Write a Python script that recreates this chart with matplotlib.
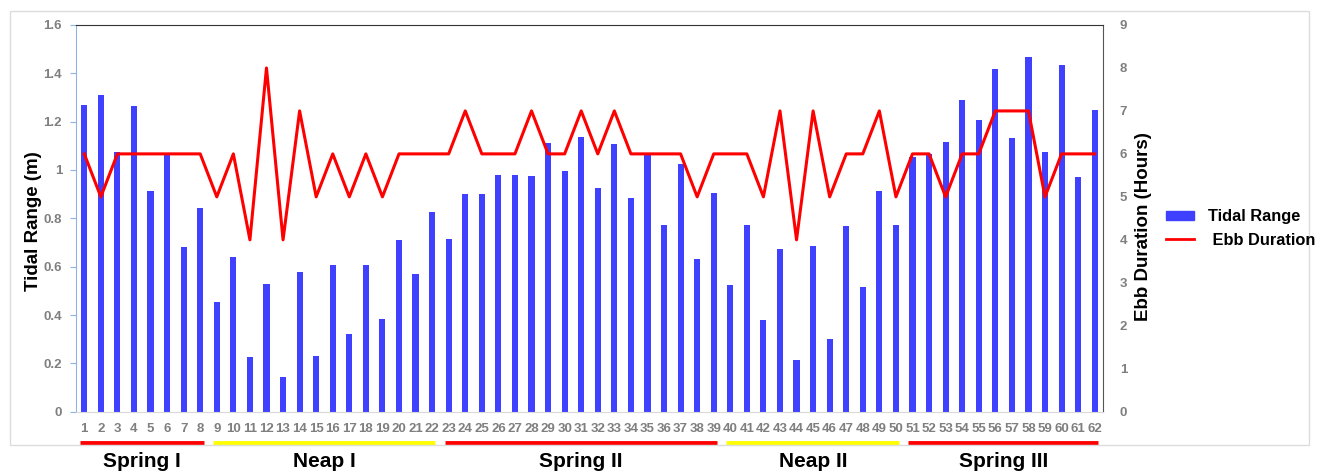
import matplotlib
matplotlib.use('Agg')
from matplotlib import pyplot as plt
from matplotlib import transforms
from matplotlib.patches import Rectangle
from matplotlib.lines import Line2D
from matplotlib.ticker import FuncFormatter

plt.rcParams['font.family'] = 'Liberation Sans'

# observation number 1..62
obs = list(range(1, 63))

tidal_range = [1.27, 1.31, 1.076, 1.264, 0.914, 1.066, 0.68, 0.841,
               0.453, 0.64, 0.228, 0.528, 0.145, 0.579, 0.232, 0.607,
               0.323, 0.607, 0.385, 0.71, 0.568, 0.825, 0.713, 0.90,
               0.90, 0.978, 0.981, 0.974, 1.11, 0.997, 1.138, 0.927,
               1.109, 0.885, 1.066, 0.771, 1.024, 0.632, 0.904, 0.523,
               0.771, 0.381, 0.674, 0.215, 0.687, 0.301, 0.767, 0.517,
               0.913, 0.771, 1.052, 1.066, 1.116, 1.29, 1.207, 1.417,
               1.132, 1.469, 1.073, 1.433, 0.972, 1.25]

ebb_duration = [6, 5, 6, 6, 6, 6, 6, 6, 5, 6, 4, 8, 4, 7, 5, 6,
                5, 6, 5, 6, 6, 6, 6, 7, 6, 6, 6, 7, 6, 6, 7, 6,
                7, 6, 6, 6, 6, 5, 6, 6, 6, 5, 7, 4, 7, 5, 6, 6,
                7, 5, 6, 6, 5, 6, 6, 7, 7, 7, 5, 6, 6, 6]

# tidal phases: (label, first obs, last obs, colour)
phase_names = ['Spring I', 'Neap I', 'Spring II', 'Neap II', 'Spring III']
phase_start = [1, 9, 23, 40, 51]
phase_end = [8, 22, 39, 50, 62]
phase_colors = ['#ff0000', '#ffff00', '#ff0000', '#ffff00', '#ff0000']

bar_color = '#4040ff'
tick_gray = '#7f7f7f'

fig = plt.figure(figsize=(13.17, 4.75), dpi=100)
fig.patches.append(Rectangle((10 / 1317, 1 - 445 / 475), 1299 / 1317, 434 / 475,
                             transform=fig.transFigure, fill=False,
                             edgecolor='#dcdcdc', linewidth=1.0))

ax = fig.add_axes([0.0577, 0.1333, 0.7798, 0.8141])
ax.bar(obs, tidal_range, width=0.37, color=bar_color, zorder=2)
ax.set_xlim(0.5, 62.5)
ax.set_ylim(0, 1.6)
ax.set_yticks([0, 0.2, 0.4, 0.6, 0.8, 1.0, 1.2, 1.4, 1.6])
ax.yaxis.set_major_formatter(FuncFormatter(lambda v, p: '{:g}'.format(round(v, 1))))
ax.set_xticks(obs)
ax.set_xticklabels([str(i) for i in obs])
ax.tick_params(axis='x', length=0, pad=8, labelsize=9.5, labelcolor=tick_gray)
ax.tick_params(axis='y', length=4, color='#8eb4e3', pad=6, labelsize=9.5,
               labelcolor=tick_gray)
for t in ax.get_xticklabels() + ax.get_yticklabels():
    t.set_fontweight('bold')
ax.spines['left'].set_color('#8eb4e3')
ax.spines['bottom'].set_color('#d9d9d9')
ax.spines['top'].set_color('#333333')
ax.spines['right'].set_color('#555555')
ax.set_ylabel('Tidal Range (m)', fontsize=13.5, fontweight='bold')
ax.yaxis.set_label_coords(-0.033, 0.493)

ax2 = ax.twinx()
ax2.plot(obs, ebb_duration, color='#ff0000', linewidth=2.2, zorder=3)
ax2.set_ylim(0, 9)
ax2.set_yticks(range(0, 10))
ax2.tick_params(axis='y', length=0, pad=12, labelsize=9.5, labelcolor=tick_gray)
for t in ax2.get_yticklabels():
    t.set_fontweight('bold')
for s in ax2.spines.values():
    s.set_visible(False)
ax2.set_ylabel('Ebb Duration (Hours)', fontsize=13.5, fontweight='bold')
ax2.yaxis.set_label_coords(1.031, 0.478)

# phase bars and names under the axis
trans = transforms.blended_transform_factory(ax.transData, ax.transAxes)
for name, a, b, c in zip(phase_names, phase_start, phase_end, phase_colors):
    ax.add_line(Line2D([a - 0.25, b + 0.2], [-0.082, -0.082], transform=trans,
                       color=c, linewidth=3.5, clip_on=False, solid_capstyle='butt'))
    ax.text((a + b) / 2, -0.128, name, transform=trans, ha='center', va='center',
            fontsize=15, fontweight='bold', clip_on=False)

handles = [Rectangle((0, 0), 1, 1, color=bar_color),
           Line2D([0], [0], color='#ff0000', linewidth=2.0)]
fig.legend(handles, ['Tidal Range', ' Ebb Duration'], loc='center left',
           bbox_to_anchor=(0.874, 0.519), frameon=False, handlelength=1.7,
           handleheight=0.5, handletextpad=0.85, labelspacing=0.5,
           prop={'weight': 'bold', 'size': 11.8})

fig.savefig('out.png', dpi=100)
